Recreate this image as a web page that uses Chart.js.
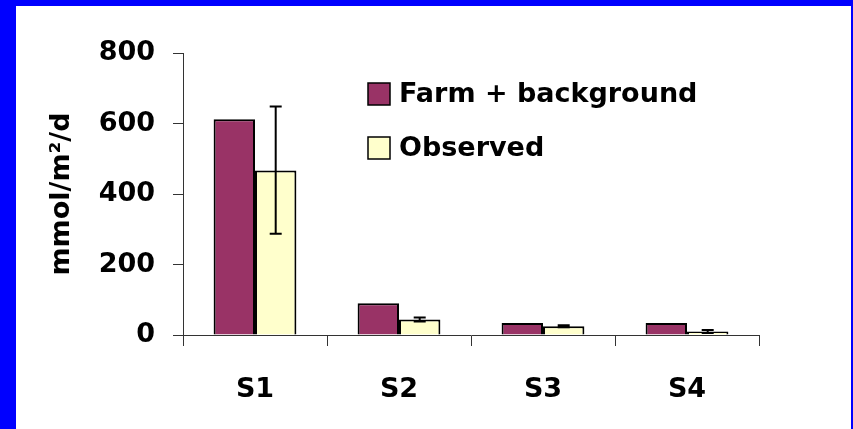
<!DOCTYPE html>
<html>
<head>
<meta charset="utf-8">
<script src="https://cdn.jsdelivr.net/npm/chart.js@4.4.1/dist/chart.umd.min.js"></script>
<style>
  html, body { margin: 0; padding: 0; background: #fff; }
  #wrap { width: 853px; height: 429px; }
</style>
</head>
<body>
<div id="wrap"><canvas id="chart" width="853" height="429"></canvas></div>
<script>
  // data
  const sites = ["S1", "S2", "S3", "S4"];
  const farmValues = [612, 90, 34, 34];
  const observedValues = [467, 44, 25, 10];
  const observedLow = [287, 38, 22, 6];
  const observedHigh = [648, 50, 28, 14];
  const yTicks = [0, 200, 400, 600, 800];

  const FONT = "'DejaVu Sans', Verdana, sans-serif";

  // blue frame round the white card
  const framePlugin = {
    id: "frame",
    beforeDraw(chart) {
      const ctx = chart.ctx;
      ctx.save();
      ctx.fillStyle = "#fff";
      ctx.fillRect(0, 0, chart.width, chart.height);
      ctx.fillStyle = "#0000ff";
      ctx.fillRect(0, 0, 16, chart.height);
      ctx.fillRect(0, 0, chart.width, 6);
      ctx.fillRect(chart.width - 2, 0, 2, chart.height);
      ctx.restore();
    }
  };

  // error bars on the observed series
  const errorBarPlugin = {
    id: "errorBars",
    afterDatasetsDraw(chart) {
      const ctx = chart.ctx;
      const meta = chart.getDatasetMeta(1);
      const y = chart.scales.y;
      ctx.save();
      ctx.strokeStyle = "#000";
      ctx.lineWidth = 2;
      meta.data.forEach((bar, i) => {
        const x = bar.x;
        const top = y.getPixelForValue(observedHigh[i]);
        const bot = y.getPixelForValue(observedLow[i]);
        ctx.beginPath();
        ctx.moveTo(x, top); ctx.lineTo(x, bot);
        ctx.moveTo(x - 6, top); ctx.lineTo(x + 6, top);
        ctx.moveTo(x - 6, bot); ctx.lineTo(x + 6, bot);
        ctx.stroke();
      });
      ctx.restore();
    }
  };

  // legend sits inside the plot, so draw it by hand
  const innerLegend = {
    id: "innerLegend",
    afterDraw(chart) {
      const ctx = chart.ctx;
      ctx.save();
      ctx.font = "bold 27px " + FONT;
      ctx.textBaseline = "middle";
      chart.data.datasets.forEach((ds, i) => {
        const cy = 94 + i * 54;
        ctx.fillStyle = ds.backgroundColor;
        ctx.fillRect(368, cy - 11, 22, 22);
        ctx.strokeStyle = "#000";
        ctx.lineWidth = 1.5;
        ctx.strokeRect(368, cy - 11, 22, 22);
        ctx.fillStyle = "#000";
        ctx.fillText(ds.label, 399, cy + 1);
      });
      ctx.restore();
    }
  };

  new Chart(document.getElementById("chart"), {
    type: "bar",
    data: {
      labels: sites,
      datasets: [
        {
          label: "Farm + background",
          data: farmValues,
          backgroundColor: "#993366",
          borderColor: "#000",
          borderWidth: 2,
          categoryPercentage: 0.575,
          barPercentage: 1
        },
        {
          label: "Observed",
          data: observedValues,
          backgroundColor: "#ffffcc",
          borderColor: "#000",
          borderWidth: 2,
          categoryPercentage: 0.575,
          barPercentage: 1
        }
      ]
    },
    options: {
      responsive: false,
      animation: false,
      layout: { padding: { left: 16, top: 53, right: 94, bottom: 0 } },
      plugins: {
        legend: { display: false },
        tooltip: { enabled: false }
      },
      scales: {
        x: {
          afterFit: s => { s.height = 94; },
          grid: { drawOnChartArea: false, tickLength: 11, color: "#333", offset: true },
          border: { color: "#333", width: 1 },
          ticks: { color: "#000", padding: 28, font: { family: FONT, size: 27, weight: "bold" } }
        },
        y: {
          min: 0,
          max: 800,
          afterFit: s => { s.width = 167; },
          afterBuildTicks: s => { s.ticks = yTicks.map(v => ({ value: v })); },
          grid: { drawOnChartArea: false, tickLength: 10, color: "#333" },
          border: { color: "#333", width: 1 },
          ticks: { color: "#000", padding: 18, font: { family: FONT, size: 27, weight: "bold" } },
          title: {
            display: true,
            text: "mmol/m\u00b2/d",
            color: "#000",
            padding: { top: 30, bottom: 0 },
            font: { family: FONT, size: 27, weight: "bold" }
          }
        }
      }
    },
    plugins: [framePlugin, errorBarPlugin, innerLegend]
  });
</script>
</body>
</html>
